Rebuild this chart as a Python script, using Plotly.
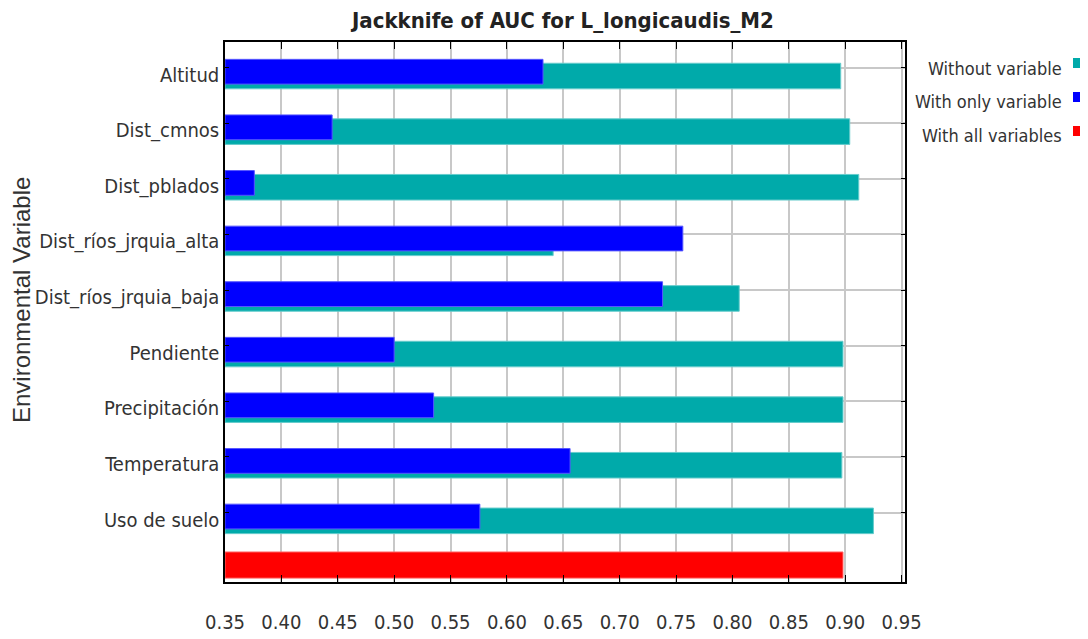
import plotly.graph_objects as go

variables = ["Altitud", "Dist_cmnos", "Dist_pblados", "Dist_ríos_jrquia_alta",
             "Dist_ríos_jrquia_baja", "Pendiente", "Precipitación", "Temperatura",
             "Uso de suelo"]
without_variable = [0.896, 0.904, 0.912, 0.641, 0.806, 0.898, 0.898, 0.897, 0.925]
with_only_variable = [0.632, 0.445, 0.376, 0.756, 0.738, 0.500, 0.535, 0.656, 0.576]
with_all_variables = [0.898]
x_ticks = [0.35, 0.40, 0.45, 0.50, 0.55, 0.60, 0.65, 0.70, 0.75, 0.80, 0.85, 0.90, 0.95]
legend_names = ["Without variable", "With only variable", "With all variables"]

TEAL = "#00AAAA"
BLUE = "#0000FF"
RED = "#FF0000"
NARROW = "DejaVu Sans Condensed, Liberation Sans Narrow, sans-serif"
REG = "Liberation Sans, Arial, sans-serif"

# page offset (body margin) and target plot box in page pixels
OFF = 8
PL, PR, PT, PB = 225, 905, 42, 582
W, H = 1080, 631
PW, PH = PR - PL, PB - PT


def px(x):
    return (x - PL) / PW


def py(y):
    return 1 - (y - PT) / PH


pos = list(range(len(variables)))
all_pos = [len(variables)]
base = x_ticks[0]

fig = go.Figure()
fig.add_trace(go.Bar(
    y=pos, x=[v - base for v in without_variable], base=base, orientation="h",
    name=legend_names[0], marker=dict(color=TEAL, line=dict(color="#66CCCC", width=1)),
    offset=-0.08, width=0.46, showlegend=False))
fig.add_trace(go.Bar(
    y=pos, x=[v - base for v in with_only_variable], base=base, orientation="h",
    name=legend_names[1], marker=dict(color=BLUE, line=dict(color="#5555FF", width=1)),
    offset=-0.15, width=0.445, showlegend=False))
fig.add_trace(go.Bar(
    y=all_pos, x=[v - base for v in with_all_variables], base=base, orientation="h",
    name=legend_names[2], marker=dict(color=RED, line=dict(color="#FF6666", width=1)),
    offset=-0.29, width=0.47, showlegend=False))

fig.update_layout(
    barmode="overlay",
    width=W, height=H,
    margin=dict(l=PL - OFF, r=W + OFF - PR, t=PT - OFF, b=H + OFF - PB, autoexpand=False),
    paper_bgcolor="white", plot_bgcolor="white",
    font=dict(family=NARROW, color="#333"),
)
fig.update_xaxes(
    range=[0.35, 0.953], tickvals=x_ticks, ticktext=[f"{t:.2f}" for t in x_ticks],
    showgrid=True, gridcolor="#C8C8C8", gridwidth=1.5,
    showline=True, linecolor="#000", linewidth=1.5, mirror="ticks",
    ticks="inside", ticklen=7, tickcolor="#000",
    ticklabelstandoff=21, automargin=False,
    tickfont=dict(family=NARROW, size=20, color="#333"), zeroline=False)
fig.update_yaxes(
    range=[9.25, -0.462], tickvals=pos, ticktext=variables,
    showgrid=True, gridcolor="#C8C8C8", gridwidth=1.5,
    showline=True, linecolor="#000", linewidth=1.5, mirror="ticks",
    ticks="inside", ticklen=4, tickcolor="#000", automargin=False,
    ticklabelshift=-7,
    tickfont=dict(family=NARROW, size=20, color="#333"), zeroline=False)

# title
fig.add_annotation(text="<b>Jackknife of AUC for L_longicaudis_M2</b>",
                   xref="paper", yref="paper", x=px(562), y=py(21),
                   xanchor="center", yanchor="middle", showarrow=False,
                   font=dict(family=NARROW, size=22, color="#222"))
# y-axis title
fig.add_annotation(text="Environmental Variable", textangle=-90,
                   xref="paper", yref="paper", x=px(21), y=py(300),
                   xanchor="center", yanchor="middle", showarrow=False,
                   font=dict(family=REG, size=24, color="#333"))

colors = [TEAL, BLUE, RED]
text_y = [68, 101, 136]
box_y = [63, 97, 131]
for name, c, ty, by in zip(legend_names, colors, text_y, box_y):
    fig.add_annotation(text=name, xref="paper", yref="paper",
                       x=px(1064), xanchor="right", y=py(ty), yanchor="middle",
                       showarrow=False, font=dict(family=NARROW, size=18, color="#333"))
    fig.add_shape(type="rect", xref="paper", yref="paper", layer="above",
                  x0=px(1073), x1=px(1082), y0=py(by + 5), y1=py(by - 5),
                  fillcolor=c, line=dict(width=0))

fig.write_html("out.html")
